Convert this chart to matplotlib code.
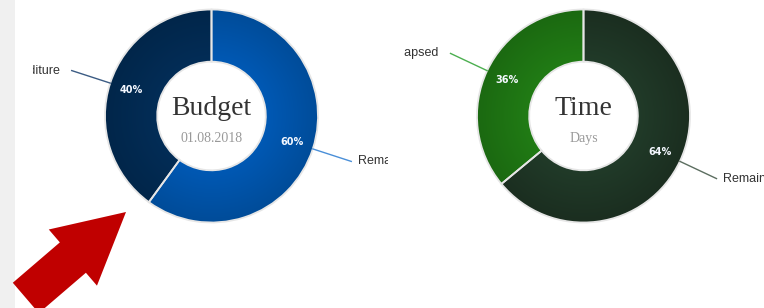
import matplotlib

matplotlib.use("Agg")
import matplotlib.pyplot as plt
import numpy as np
from matplotlib.colors import LinearSegmentedColormap
from matplotlib.patches import FancyArrow, Rectangle

# data
budget_labels = ["Remaining", "Expenditure"]
budget_values = [60, 40]
budget_title = "Budget"
budget_subtitle = "01.08.2018"

time_labels = ["Remaining", "Elapsed"]
time_values = [64, 36]
time_title = "Time"
time_subtitle = "Days"

# styles: (light, dark) pairs for the radial shading, plus connector colours
budget_colors = [("#0059b5", "#004c99"), ("#032d57", "#01264a")]
budget_lines = ["#4a8fd8", "#3c5c84"]
time_colors = [("#213b29", "#1b2e20"), ("#217c15", "#1b6911")]
time_lines = ["#5c6e60", "#4caf50"]

W, H = 764, 308
R_PX = 106.5


def donut(fig, box, center_px, values, labels, colors, line_colors, title, subtitle):
    """box = (x0, x1) in pixels of the chart container, center in pixels from top-left."""
    x0, x1 = box
    cx, cy = center_px
    ax = fig.add_axes([x0 / W, 0, (x1 - x0) / W, 1])
    wedges, _, autotexts = ax.pie(
        values,
        colors=[c[0] for c in colors],
        startangle=90,
        counterclock=False,
        radius=1.0,
        autopct=lambda p: f"{p:.0f}%",
        pctdistance=0.79,
        wedgeprops=dict(width=0.49, edgecolor="#e6e6e6", linewidth=1.3),
        textprops=dict(color="#f4f8ff", fontsize=7, fontweight="bold", family="DejaVu Sans"),
    )
    ax.axis("off")

    # radial shading inside each wedge
    g = np.linspace(-1, 1, 300)
    xx, yy = np.meshgrid(g, g)
    rr = np.sqrt(xx**2 + yy**2)
    for w, (light, dark) in zip(wedges, colors):
        cmap = LinearSegmentedColormap.from_list("s", [light, light, dark])
        im = ax.imshow(rr, extent=(-1, 1, -1, 1), origin="lower", cmap=cmap,
                       vmin=0, vmax=1, zorder=w.get_zorder() - 0.1, interpolation="bilinear")
        im.set_clip_path(w)
        w.set_facecolor("none")
    for t in autotexts:
        t.set_zorder(5)
    ax.set_xlim((x0 - cx) / R_PX, (x1 - cx) / R_PX)
    ax.set_ylim(-(H - cy) / R_PX, cy / R_PX)
    ax.set_aspect("auto")

    # connectors and outside labels (clipped at the chart container, like the page)
    for w, lab, lc in zip(wedges, labels, line_colors):
        th = np.deg2rad((w.theta1 + w.theta2) / 2)
        c, s = np.cos(th), np.sin(th)
        ax.plot([c * 1.0, c * 1.38], [s * 1.0, s * 1.38], color=lc, lw=1.0, zorder=4)
        if c > 0:
            tx, ha = c * 1.38 + 0.06, "left"
        else:
            tx, ha = c * 1.38 - 0.11, "right"
        ax.text(tx, s * 1.38, lab, ha=ha, va="center", fontsize=9,
                color="#333333", family="Liberation Sans", zorder=6, clip_on=True)

    ax.text(0, 0.07, title, ha="center", va="center", fontsize=20,
            family="Liberation Serif", color="#333333", zorder=6)
    ax.text(0, -0.215, subtitle, ha="center", va="center", fontsize=10,
            family="Liberation Serif", color="#999999", zorder=6)
    return ax


fig = plt.figure(figsize=(W / 100, H / 100), dpi=100)
fig.patch.set_facecolor("white")

# page decoration: grey left strip and red pointer arrow
deco = fig.add_axes([0, 0, 1, 1], zorder=10)
deco.set_xlim(0, W)
deco.set_ylim(H, 0)
deco.axis("off")
deco.add_patch(Rectangle((0, 0), 15, H, color="#f0f0f0", lw=0))

donut(fig, (33, 388), (211.5, 116), budget_values, budget_labels,
      budget_colors, budget_lines, budget_title, budget_subtitle)
donut(fig, (404, 764), (583.5, 116), time_values, time_labels,
      time_colors, time_lines, time_title, time_subtitle)

ux, uy = 0.759, -0.651
L = 132
deco.add_patch(FancyArrow(126 - ux * L, 212 - uy * L, ux * L, uy * L, width=40,
                          head_width=74, head_length=70, length_includes_head=True,
                          color="#c00000", lw=0))

fig.savefig("out.png", dpi=100)
